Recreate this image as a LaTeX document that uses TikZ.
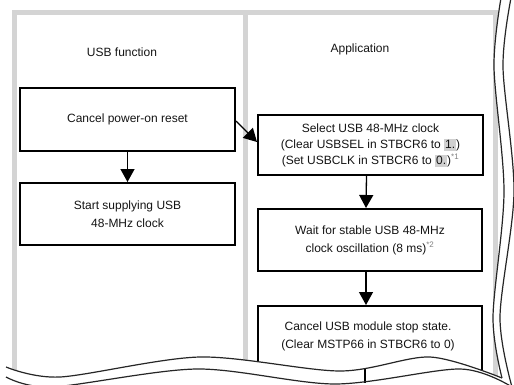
\documentclass[tikz,border=0pt]{standalone}
\usepackage{fontspec}
\setmainfont{Liberation Sans}
\usetikzlibrary{arrows.meta}
\definecolor{framegray}{HTML}{D4D4D4}
\definecolor{hlgray}{HTML}{D0D0D0}
\definecolor{txtcol}{HTML}{141414}
\newcommand\hlbox[1]{\smash{\setlength{\fboxsep}{0pt}\colorbox{hlgray}{\hspace{1pt}\rule[-2.5pt]{0pt}{12pt}#1\hspace{1pt}}}}
\newcommand\notemark[1]{\textsuperscript{\color{gray}*#1}}
\begin{document}
\begin{tikzpicture}[x=1pt,y=-1pt,
  txt/.style={text=txtcol,align=center,inner sep=0pt,font=\fontsize{12}{18}\selectfont},
  stepbox/.style={draw=black,line width=2pt,align=center,inner sep=0pt,text=txtcol,font=\fontsize{12}{18}\selectfont},
  flow/.style={-{Triangle[width=14pt,length=13pt]},line width=1.3pt},
  frameline/.style={draw=framegray,line width=5pt},
  wave/.style={draw=black!85,line width=1.2pt}]
\useasboundingbox (0,0) rectangle (514,385);
% gray frame
\draw[frameline] (14,400) -- (14,13) -- (495.5,13) -- (495.5,400);
\draw[frameline] (245.5,13) -- (245.5,400);
% labels
\node[txt] (lab1) at (122,52) {USB function};
\node[txt] (lab2) at (360,49) {Application};
% boxes
\node[stepbox,minimum width=215pt,minimum height=63pt] (b1) at (127.5,119.5) {Cancel power-on reset};
\node[stepbox,minimum width=215pt,minimum height=62pt] (b2) at (127.5,214) {Start supplying USB\\48-MHz clock};
\node[stepbox,minimum width=225pt,minimum height=60pt,font=\fontsize{12}{16}\selectfont] (b3) at (370.5,145)
  {Select USB 48-MHz clock\\(Clear USBSEL in STBCR6 to \hlbox{1.})\\(Set USBCLK in STBCR6 to \hlbox{0.})\notemark{1}};
\node[stepbox,minimum width=224pt,minimum height=62pt] (b4) at (370,240) {Wait for stable USB 48-MHz\\clock oscillation (8 ms)\notemark{2}};
\node[stepbox,minimum width=224pt,minimum height=90pt,anchor=north] (b5) at (370,305) {};
\node[txt] (t5) at (368,336) {Cancel USB module stop state.\\(Clear MSTP66 in STBCR6 to 0)};
% connectors
\draw[flow] (b1.south) -- (b2.north);
\draw[flow] ([yshift=-1.5pt]b1.east) -- ([yshift=3pt]b3.west);
\draw[flow] ([xshift=-4pt]b3.south) -- ([xshift=-4pt]b4.north);
\draw[flow] ([xshift=-4pt]b4.south) -- ([xshift=-4pt]b5.north);
% break mask
\fill[white] (530,-10) -- (501,-10) -- plot[smooth] coordinates {(501,-2) (494,67) (504,192) (493,317) (502,378)}
  -- plot[smooth] coordinates {(502,378) (430,357) (340,371) (200,357) (60,377) (6,367)}
  -- (-10,367) -- (-10,400) -- (530,400) -- cycle;
% visible piece of the continuing flow line
\coordinate (cut1) at (365,368);
\coordinate (cut2) at (365,383);
\draw[line width=1.3pt] (cut1) -- (cut2);
% break lines
\draw[wave] plot[smooth] coordinates {(501,-2) (494,67) (504,192) (493,317) (502,378)};
\draw[wave] plot[smooth] coordinates {(511,-2) (503,67) (514,192) (500,317) (512,387)};
\draw[wave] plot[smooth] coordinates {(6,367) (60,377) (200,357) (340,371) (430,357) (502,378)};
\draw[wave] plot[smooth] coordinates {(6,377) (52,387) (197,369) (335,384) (460,369) (512,387)};
\end{tikzpicture}
\end{document}
